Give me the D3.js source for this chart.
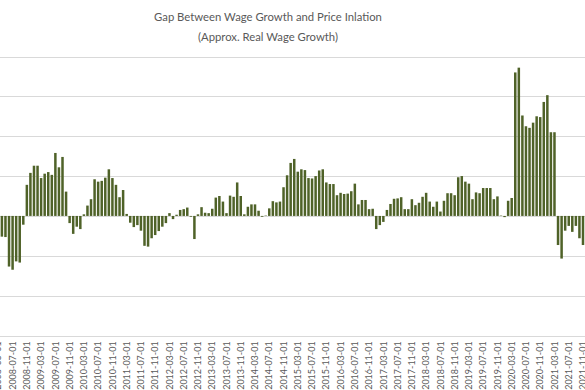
<!DOCTYPE html>
<html>
<head>
<meta charset="utf-8">
<script src="https://cdn.jsdelivr.net/npm/d3@7"></script>
<style>
  html, body { margin: 0; padding: 0; background: #fff; }
  svg { display: block; }
</style>
</head>
<body>
<div id="chart"></div>
<script>
// monthly categories, 2008-03 .. 2021-11
const firstMonth = "2008-03-01";
const lastMonth = "2021-11-01";

// approx. real wage growth (%), one value per month
const gapValues = [
  -0.45,
  -0.52, -0.53, -1.27, -1.35, -1.14, -1.17, -0.22, 0.78, 1.08, 1.26, 1.26, 0.95,
  1.06, 1.10, 1.03, 1.58, 1.22, 1.48, 0.61, -0.18, -0.45, -0.27, -0.33, 0.04,
  0.26, 0.42, 0.92, 0.86, 0.88, 0.96, 1.17, 0.95, 0.78, 0.47, 0.65, 0.05,
  -0.17, -0.28, -0.23, -0.37, -0.75, -0.77, -0.56, -0.48, -0.38, -0.27, -0.18, 0.07,
  -0.08, 0.03, 0.15, 0.17, 0.21, -0.02, -0.58, 0.04, 0.22, 0.08, 0.07, 0.18,
  0.46, 0.50, 0.36, 0.07, 0.51, 0.48, 0.84, 0.50, 0.04, 0.23, 0.29, 0.29,
  0.13, -0.02, 0.01, 0.19, 0.37, 0.34, 0.36, 0.72, 1.02, 1.33, 1.43, 1.11,
  1.17, 1.15, 0.95, 0.94, 1.00, 1.14, 1.17, 0.84, 0.80, 0.80, 0.52, 0.58,
  0.55, 0.56, 0.62, 0.81, 0.29, 0.40, 0.40, 0.17, 0.18, -0.33, -0.23, -0.15,
  0.15, 0.30, 0.43, 0.44, 0.47, 0.17, 0.17, 0.42, 0.27, 0.33, 0.48, 0.58,
  0.36, 0.23, 0.36, 0.11, 0.38, 0.57, 0.57, 0.52, 0.97, 1.00, 0.86, 0.81,
  0.42, 0.59, 0.57, 0.70, 0.70, 0.70, 0.42, 0.49, 0.01, -0.03, 0.38, 0.45,
  3.60, 3.72, 2.52, 2.25, 2.21, 2.34, 2.50, 2.48, 2.86, 3.03, 2.10, 2.10,
  -0.73, -1.07, -0.37, -0.25, -0.40, -0.25, -0.56, -0.73
];

const yTicks = [-3, -2, -1, 0, 1, 2, 3, 4];
const labelEvery = 4;

const titleLines = ["Gap Between Wage Growth and Price Inlation", "(Approx. Real Wage Growth)"];

const parse = d3.utcParse("%Y-%m-%d");
const fmt = d3.utcFormat("%Y-%m-%d");
const months = d3.utcMonth.range(parse(firstMonth), d3.utcMonth.offset(parse(lastMonth), 1)).map(fmt);
const data = months.map((m, i) => ({ month: m, value: gapValues[i] }));
const tickLabels = months.filter((m, i) => i % labelEvery === 0);

const width = 585;
const height = 390;

const svg = d3.select("#chart").append("svg")
  .attr("width", width)
  .attr("height", height)
  .style("font-family", "Lato, 'Open Sans', sans-serif");

// the picture is a crop: first category sits just left of the frame
const step = 3.565;
const x0 = -1.665 - step / 2;
const x = d3.scaleBand()
  .domain(months)
  .range([x0, x0 + months.length * step])
  .paddingInner(0.3)
  .paddingOuter(0.15);

const y = d3.scaleLinear()
  .domain([-3, 4])
  .range([335.5, 56.5]);

// gridlines
svg.append("g")
  .selectAll("line")
  .data(yTicks)
  .join("line")
  .attr("x1", 0)
  .attr("x2", width)
  .attr("y1", d => Math.round(y(d)) + 0.5)
  .attr("y2", d => Math.round(y(d)) + 0.5)
  .style("stroke", "#d9d9d9")
  .style("stroke-width", 1);

// bars
svg.append("g")
  .selectAll("rect")
  .data(data)
  .join("rect")
  .attr("x", d => x(d.month))
  .attr("width", x.bandwidth())
  .attr("y", d => y(Math.max(0, d.value)))
  .attr("height", d => Math.abs(y(d.value) - y(0)))
  .style("fill", "#4f6228");

// x axis labels (rotated)
const xAxis = d3.axisBottom(x)
  .tickValues(tickLabels)
  .tickSize(0)
  .tickPadding(0);

const gx = svg.append("g")
  .attr("transform", `translate(0, ${y(-3) + 5})`)
  .call(xAxis);
gx.select(".domain").remove();
gx.selectAll("text")
  .attr("transform", "rotate(-90)")
  .attr("x", 0)
  .attr("y", 0)
  .attr("dx", "-0.1em")
  .attr("dy", "0.35em")
  .style("text-anchor", "end")
  .style("font-size", "9px")
  .style("font-family", "Lato, 'Open Sans', sans-serif")
  .style("fill", "#595959");

// title
svg.append("g")
  .selectAll("text")
  .data(titleLines)
  .join("text")
  .attr("x", 268)
  .attr("y", (d, i) => 21 + i * 20)
  .style("text-anchor", "middle")
  .style("font-size", "11.3px")
  .style("fill", "#595959")
  .text(d => d);
</script>
</body>
</html>
